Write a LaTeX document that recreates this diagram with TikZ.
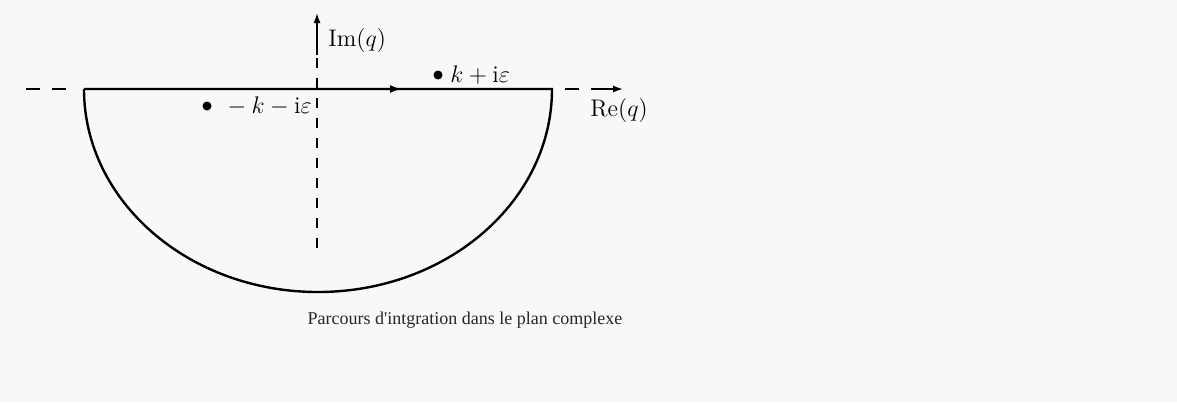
\documentclass[tikz,border=0pt]{standalone}
\usepackage{fontspec}
\newfontfamily\legendefont{Liberation Serif}
\usetikzlibrary{arrows.meta}
\definecolor{fond}{RGB}{248,248,248}
\begin{document}
\begin{tikzpicture}[x=0.5pt, y=-0.5pt,
    axe/.style={line width=0.8pt, dash pattern=on 7pt off 6pt},
    axev/.style={line width=0.8pt, dash pattern=on 5pt off 5pt},
    fleche/.style={line width=0.8pt, -{Latex[length=5pt, width=3.5pt]}},
    contour/.style={line width=1.2pt},
    pole/.style={circle, fill=black, inner sep=0pt, minimum size=4.5pt},
    etiquette/.style={anchor=west, inner sep=0pt, font=\large}]
    \fill[fond] (0, 0) rectangle (1177, 403);
    \useasboundingbox (0, 0) rectangle (1177, 403);
    \coordinate (hg) at (26, 89);
    \coordinate (hg2) at (68, 89);
    \coordinate (cg) at (84, 89);
    \coordinate (cm) at (402, 89);
    \coordinate (cd) at (552, 89);
    \coordinate (hd) at (565, 89);
    \coordinate (hd2) at (595, 89);
    \coordinate (hf) at (623, 89);
    \coordinate (vb) at (317, 248);
    \coordinate (vh) at (317, 55);
    \coordinate (vf) at (317, 13);
    \draw[axe] (hg) -- (hg2);
    \draw[axe] (hd) -- (hd2);
    \draw[fleche] (hd2) -- (hf);
    \draw[axev] (vb) -- (vh);
    \draw[fleche] (vh) -- (vf);
    \draw[contour] (cg) -- (cd) arc[start angle=0, end angle=-180, x radius=117pt, y radius=101.5pt];
    \draw[contour, -{Latex[length=6pt, width=4pt]}] (cg) -- (cm);
    \node[pole] (kp) at (438, 75) {};
    \node[etiquette] (lkp) at (450, 75) {$k+\mathrm{i}\varepsilon$};
    \node[pole] (km) at (207, 106) {};
    \node[etiquette] (lkm) at (222, 106) {${}-k-\mathrm{i}\varepsilon$};
    \node[etiquette] (im) at (328, 40) {$\mathrm{Im}(q)$};
    \node[etiquette] (re) at (590, 110) {$\mathrm{Re}(q)$};
    \node[font=\legendefont\fontsize{9}{11}\selectfont, text=black!85] (legende) at (465, 320) {Parcours d'intgration dans le plan complexe};
\end{tikzpicture}
\end{document}
